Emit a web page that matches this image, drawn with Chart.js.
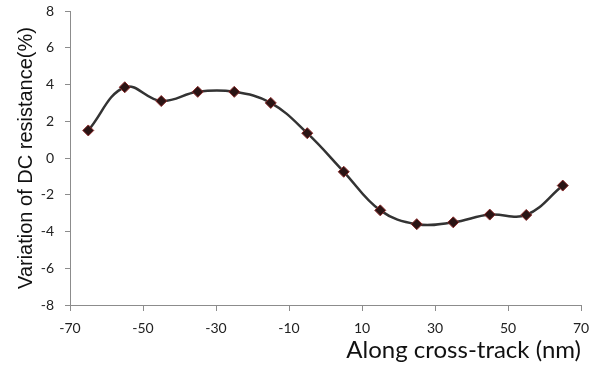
<!DOCTYPE html>
<html>
<head>
<meta charset="utf-8">
<script src="https://cdn.jsdelivr.net/npm/chart.js@4/dist/chart.umd.min.js"></script>
<style>
html,body{margin:0;padding:0;background:#fff;}
#wrap{width:600px;height:371px;position:relative;}
</style>
</head>
<body>
<div id="wrap"><canvas id="c" width="600" height="371"></canvas></div>
<script>
const xValues = [-65, -55, -45, -35, -25, -15, -5, 5, 15, 25, 35, 45, 55, 65];
const yValues = [1.5, 3.85, 3.1, 3.6, 3.6, 3.0, 1.35, -0.75, -2.85, -3.6, -3.5, -3.08, -3.1, -1.5];
const xTicks = [-70, -50, -30, -10, 10, 30, 50, 70];
const yTicks = [-8, -6, -4, -2, 0, 2, 4, 6, 8];

const points = xValues.map((x, i) => ({x: x, y: yValues[i]}));

new Chart(document.getElementById('c'), {
  type: 'scatter',
  data: {
    datasets: [{
      data: points,
      showLine: true,
      borderColor: '#333333',
      borderWidth: 2.5,
      tension: 0.4,
      pointStyle: 'rectRot',
      pointRadius: 5.5,
      pointBackgroundColor: '#2a1414',
      pointBorderColor: '#8a2a2a',
      pointBorderWidth: 1
    }]
  },
  options: {
    responsive: false,
    animation: false,
    devicePixelRatio: 1,
    layout: {padding: {left: 0, right: 19, top: 0, bottom: 0}},
    plugins: {legend: {display: false}, tooltip: {enabled: false}},
    scales: {
      x: {
        type: 'linear',
        min: -70, max: 70,
        afterBuildTicks: s => { s.ticks = xTicks.map(v => ({value: v})); },
        afterFit: s => { s.height = 66; },
        grid: {drawOnChartArea: false, drawTicks: true, tickLength: 6, color: '#8c8c8c'},
        border: {display: true, color: '#8c8c8c', width: 1},
        ticks: {color: '#222', font: {family: 'Lato', size: 14}, padding: 9, maxRotation: 0},
        title: {display: true, text: 'Along cross-track (nm)', align: 'end', color: '#111',
                font: {family: 'Lato', size: 24}, padding: {top: 2, bottom: 6}}
      },
      y: {
        type: 'linear',
        min: -8, max: 8,
        afterBuildTicks: s => { s.ticks = yTicks.map(v => ({value: v})); },
        afterFit: s => { s.width = 70; s.paddingTop = 11; s.paddingBottom = 0; },
        grid: {drawOnChartArea: false, drawTicks: true, tickLength: 5, color: '#8c8c8c'},
        border: {display: true, color: '#8c8c8c', width: 1},
        ticks: {color: '#222', font: {family: 'Lato', size: 14}, padding: 11},
        title: {display: true, text: 'Variation of DC resistance(%)', color: '#111',
                font: {family: 'Liberation Sans', size: 20}, padding: {top: 14, bottom: 0}}
      }
    }
  }
});
</script>
</body>
</html>
